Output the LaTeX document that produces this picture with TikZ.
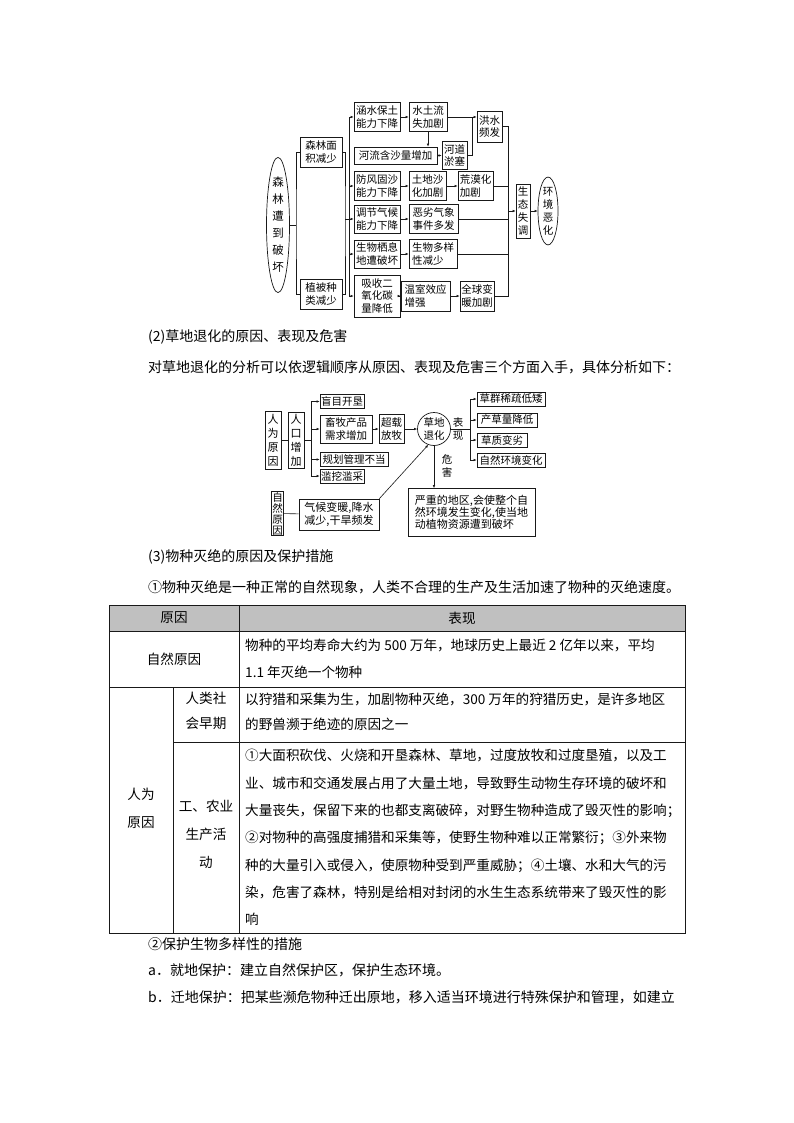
\documentclass[tikz,border=0pt]{standalone}
\usepackage{fontspec}
\setmainfont{Noto Sans CJK SC}
\usetikzlibrary{positioning,calc,shapes.geometric,arrows.meta}
\definecolor{pageink}{RGB}{25,25,25}
\definecolor{headgray}{RGB}{192,192,192}

\begin{document}
\begin{tikzpicture}[x=1pt,y=-1pt,
    box/.style={draw=pageink, line width=0.7pt, inner sep=1pt, align=left,
      font=\fontsize{10.5}{12.5}\selectfont},
    vbox/.style={draw=pageink, line width=0.7pt, inner sep=1pt, align=center,
      font=\fontsize{10.5}{13}\selectfont},
    oval/.style={ellipse, draw=pageink, line width=0.7pt, inner sep=0pt, align=center},
    tag/.style={inner sep=0pt, align=center, font=\fontsize{10.5}{13}\selectfont},
    link/.style={draw=pageink, line width=0.6pt},
    arrow/.style={link, -{Latex[length=3pt,width=2.6pt]}},
    body/.style={anchor=west, inner sep=0pt, font=\fontsize{14}{14}\selectfont},
    cell/.style={anchor=west, inner sep=0pt, align=left, font=\fontsize{13.6}{27.3}\selectfont},
    head/.style={inner sep=0pt, align=center, font=\fontsize{13.6}{28}\selectfont}
  ]
  \path[fill=white] (0,0) rectangle (794,1123);
  \useasboundingbox (0,0) rectangle (794,1123);

  % forest diagram
  \node[oval, minimum width=23pt, minimum height=127pt, font=\fontsize{11.5}{17}\selectfont]
    (pohuai) at (278,225) {森\\林\\遭\\到\\破\\坏};
  \node[box, align=center, minimum width=42pt, minimum height=30pt] (senlin) at (321,152) {森林面\\积减少};
  \node[box, align=center, minimum width=42pt, minimum height=30pt] (zhibei) at (321,294) {植被种\\类减少};

  \node[box, minimum width=46pt, minimum height=29pt] (hanshui) at (377,117) {涵水保土\\能力下降};
  \node[box, minimum width=38pt, minimum height=29pt] (shuitu) at (428,117) {水土流\\失加剧};
  \node[box, minimum width=25pt, minimum height=31pt] (hongshui) at (489.5,126.5) {洪水\\频发};
  \node[box, minimum width=83pt, minimum height=17pt] (heliu) at (395.5,155.5) {河流含沙量增加};
  \node[box, minimum width=25pt, minimum height=28pt] (hedao) at (454.5,155.5) {河道\\淤塞};
  \node[box, minimum width=46pt, minimum height=29pt] (fangfeng) at (377,186) {防风固沙\\能力下降};
  \node[box, minimum width=37pt, minimum height=29pt] (tudi) at (427.5,186) {土地沙\\化加剧};
  \node[box, minimum width=35pt, minimum height=29pt] (huangmo) at (475.5,186) {荒漠化\\加剧};
  \node[box, minimum width=46pt, minimum height=28pt] (tiaojie) at (377,219) {调节气候\\能力下降};
  \node[box, minimum width=49pt, minimum height=29pt] (elie) at (433.5,219) {恶劣气象\\事件多发};
  \node[box, minimum width=46pt, minimum height=28pt] (qixi) at (377,254) {生物栖息\\地遭破坏};
  \node[box, minimum width=48pt, minimum height=29pt] (duoyang) at (433,254) {生物多样\\性减少};
  \node[box, align=center, minimum width=46pt, minimum height=42pt] (xishou) at (377,296) {吸收二\\氧化碳\\量降低};
  \node[box, minimum width=49pt, minimum height=30pt] (wenshi) at (425.5,296) {温室效应\\增强};
  \node[box, minimum width=34pt, minimum height=30pt] (quanqiu) at (477,296) {全球变\\暖加剧};
  \node[vbox, minimum width=14pt, minimum height=54pt] (shengtai) at (523,211) {生\\态\\失\\调};
  \node[oval, minimum width=20pt, minimum height=61pt, font=\fontsize{10.5}{13}\selectfont]
    (huanjing) at (548,211) {环\\境\\恶\\化};

  \coordinate (jl) at (296,225);
  \coordinate (jr) at (345,219);
  \coordinate (tk) at (349,219);
  \coordinate (hj) at (472,117);
  \coordinate (rj) at (508,211);

  \draw[link] (pohuai.east) -- (jl);
  \draw[link] (senlin.west) -| (jl) |- (zhibei.west);
  \draw[link] (senlin.east) -| (jr) |- (zhibei.east);
  \draw[arrow] (jr) -- (tiaojie.west);
  \draw[arrow] (tk) |- (hanshui.west);
  \draw[arrow] (tk) |- (fangfeng.west);
  \draw[arrow] (tk) |- (qixi.west);
  \draw[arrow] (tk) |- (xishou.west);

  \draw[arrow] (hanshui) -- (shuitu);
  \draw[arrow] (shuitu.south) -- (shuitu.south |- heliu.north);
  \draw[arrow] (heliu) -- (hedao);
  \draw[arrow] (shuitu.east) -- (shuitu.east -| hongshui.west);
  \draw[link] (hedao.east) -| (hj);
  \draw[arrow] (fangfeng) -- (tudi);
  \draw[arrow] (tudi) -- (huangmo);
  \draw[arrow] (tiaojie) -- (elie);
  \draw[arrow] (qixi) -- (duoyang);
  \draw[arrow] (xishou) -- (wenshi);
  \draw[arrow] (wenshi) -- (quanqiu);

  \draw[link] (hongshui.east) -| (rj);
  \draw[link] (huangmo.east) -| (rj);
  \draw[link] (elie.east) -| (rj);
  \draw[link] (duoyang.east) -| (rj);
  \draw[link] (quanqiu.east) -| (rj);
  \draw[arrow] (rj) -- (shengtai.west);
  \draw[arrow] (shengtai) -- (huanjing);

  % grassland diagram
  \node[body] (title2) at (148,337) {(2)草地退化的原因、表现及危害};
  \node[body] (intro2) at (148,367) {对草地退化的分析可以依逻辑顺序从原因、表现及危害三个方面入手，具体分析如下：};

  \node[vbox, minimum width=16pt, minimum height=58pt, font=\fontsize{11}{14}\selectfont] (renwei) at (273,440) {人\\为\\原\\因};
  \node[vbox, minimum width=16pt, minimum height=56pt, font=\fontsize{11}{14}\selectfont] (renkou) at (296,440) {人\\口\\增\\加};
  \node[box, minimum width=44pt, minimum height=14pt] (mangmu) at (342,401.5) {盲目开垦};
  \node[box, minimum width=52pt, minimum height=28pt] (xumu) at (346,429) {畜牧产品\\需求增加};
  \node[box, minimum width=68pt, minimum height=14pt] (guihua) at (354,459.5) {规划管理不当};
  \node[box, minimum width=44pt, minimum height=14pt] (lanwa) at (342,476) {滥挖滥采};
  \node[box, minimum width=25pt, minimum height=29pt] (chaozai) at (391.5,429) {超载\\放牧};
  \node[circle, draw=pageink, line width=0.7pt, minimum size=33pt, inner sep=0pt, align=center,
    font=\fontsize{10.5}{12.5}\selectfont] (caodi) at (434,429) {草地\\退化};
  \node[tag] (biaoxian) at (458,429.5) {表\\现};
  \node[tag] (weihai) at (447,466) {危\\害};
  \node[box, minimum width=68pt, minimum height=14pt] (cao1) at (511,399) {草群稀疏低矮};
  \node[box, minimum width=60pt, minimum height=14pt] (cao2) at (507,420) {产草量降低};
  \node[box, minimum width=50pt, minimum height=14pt] (cao3) at (502,440) {草质变劣};
  \node[box, minimum width=68pt, minimum height=14pt] (cao4) at (511,460) {自然环境变化};
  \node[box, minimum width=127pt, minimum height=48pt, inner sep=3pt, font=\fontsize{11}{12}\selectfont]
    (yanzhong) at (471.5,512.5) {严重的地区,会使整个自\\然环境发生变化,使当地\\动植物资源遭到破坏};
  \node[vbox, minimum width=12pt, minimum height=44pt, font=\fontsize{10.5}{11}\selectfont] (ziran) at (277.5,513.5) {自\\然\\原\\因};
  \node[box, minimum width=80pt, minimum height=31pt, font=\fontsize{11}{13}\selectfont] (qihou) at (339,514.5) {气候变暖,降水\\减少,干旱频发};

  \coordinate (jp) at (311,440);
  \coordinate (jb) at (470,429);
  \draw[link] (renwei) -- (renkou);
  \draw[link] (renkou.east) -- (jp);
  \draw[arrow] (jp) |- (mangmu.west);
  \draw[arrow] (jp) |- (xumu.west);
  \draw[arrow] (jp) |- (guihua.west);
  \draw[arrow] (jp) |- (lanwa.west);
  \draw[arrow] (xumu) -- (chaozai);
  \draw[arrow] (chaozai) -- (caodi);
  \draw[link] (caodi.east) -- (jb);
  \draw[arrow] (jb) |- (cao1.west);
  \draw[arrow] (jb) |- (cao2.west);
  \draw[arrow] (jb) |- (cao3.west);
  \draw[arrow] (jb) |- (cao4.west);
  \draw[arrow] (caodi.south) -- (caodi.south |- yanzhong.north);
  \draw[link] (ziran) -- (qihou);
  \draw[arrow] (qihou.north east) -- (caodi.250);

  % species table
  \node[body] (title3) at (148,557) {(3)物种灭绝的原因及保护措施};
  \node[body] (intro3) at (148,587) {①物种灭绝是一种正常的自然现象，人类不合理的生产及生活加速了物种的灭绝速度。};

  \fill[headgray] (109,605) rectangle (685,631);
  \draw[pageink, line width=0.8pt] (109,605) rectangle (685,933);
  \draw[pageink, line width=0.8pt] (109,631) -- (685,631);
  \draw[pageink, line width=0.8pt] (109,687) -- (685,687);
  \draw[pageink, line width=0.8pt] (173,742) -- (685,742);
  \draw[pageink, line width=0.8pt] (239,605) -- (239,933);
  \draw[pageink, line width=0.8pt] (173,687) -- (173,933);

  \node[head] (hyuanyin) at (174,618) {原因};
  \node[head] (hbiaoxian) at (462,618) {表现};
  \node[head] (ziranyy) at (174,659) {自然原因};
  \node[head] (renweiyy) at (141,808) {人为\\原因};
  \node[head, font=\fontsize{13.6}{25}\selectfont] (zaoqi) at (206,711) {人类社\\会早期};
  \node[head] (gongnong) at (206,834) {工、农业\\生产活\\动};

  \node[cell] (row1) at (245,659) {物种的平均寿命大约为 500 万年，地球历史上最近 2 亿年以来，平均\\1.1 年灭绝一个物种};
  \node[cell, font=\fontsize{13.6}{25}\selectfont] (row2) at (245,712) {以狩猎和采集为生，加剧物种灭绝，300 万年的狩猎历史，是许多地区\\的野兽濒于绝迹的原因之一};
  \node[cell] (row3) at (245,837.5) {①大面积砍伐、火烧和开垦森林、草地，过度放牧和过度垦殖，以及工\\业、城市和交通发展占用了大量土地，导致野生动物生存环境的破坏和\\大量丧失，保留下来的也都支离破碎，对野生物种造成了毁灭性的影响；\\②对物种的高强度捕猎和采集等，使野生物种难以正常繁衍；③外来物\\种的大量引入或侵入，使原物种受到严重威胁；④土壤、水和大气的污\\染，危害了森林，特别是给相对封闭的水生生态系统带来了毁灭性的影\\响};

  \node[body] (title4) at (148,944) {②保护生物多样性的措施};
  \node[body] (pointa) at (148,970) {a．就地保护：建立自然保护区，保护生态环境。};
  \node[body] (pointb) at (148,997) {b．迁地保护：把某些濒危物种迁出原地，移入适当环境进行特殊保护和管理，如建立};
\end{tikzpicture}
\end{document}
